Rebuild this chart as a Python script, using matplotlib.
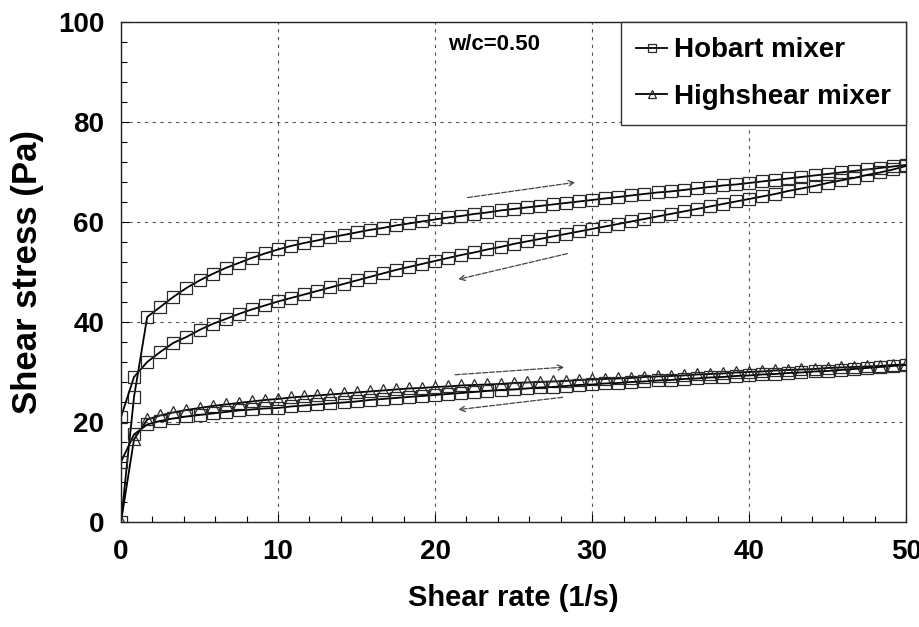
import matplotlib

matplotlib.use("Agg")

import matplotlib.pyplot as plt
from matplotlib.ticker import MultipleLocator

plt.rcParams["font.family"] = ["Liberation Sans", "DejaVu Sans"]
plt.rcParams["font.weight"] = "bold"

# shear rate ramp (1/s), same points for the up and down sweeps
shear_rate = [0, 0.83, 1.67, 2.5, 3.33, 4.17, 5, 5.83, 6.67, 7.5, 8.33, 9.17,
              10, 10.83, 11.67, 12.5, 13.33, 14.17, 15, 15.83, 16.67, 17.5, 18.33, 19.17,
              20, 20.83, 21.67, 22.5, 23.33, 24.17, 25, 25.83, 26.67, 27.5, 28.33, 29.17,
              30, 30.83, 31.67, 32.5, 33.33, 34.17, 35, 35.83, 36.67, 37.5, 38.33, 39.17,
              40, 40.83, 41.67, 42.5, 43.33, 44.17, 45, 45.83, 46.67, 47.5, 48.33, 49.17,
              50]

# shear stress (Pa)
hobart_up = [0, 25, 41, 43, 45, 46.8, 48.3, 49.6, 50.8, 51.8, 52.8, 53.7,
             54.5, 55.2, 55.8, 56.3, 56.9, 57.4, 57.9, 58.4, 58.8, 59.3, 59.7, 60.1,
             60.5, 60.9, 61.2, 61.6, 61.9, 62.3, 62.6, 62.9, 63.2, 63.5, 63.8, 64.1,
             64.4, 64.7, 65.0, 65.3, 65.6, 65.9, 66.1, 66.4, 66.7, 67.0, 67.3, 67.5,
             67.8, 68.1, 68.4, 68.7, 69.0, 69.3, 69.6, 69.9, 70.2, 70.5, 70.8, 71.1,
             71.4]
hobart_down = [21, 29, 32, 34, 35.8, 37, 38.4, 39.6, 40.6, 41.6, 42.5, 43.3,
               44.1, 44.8, 45.5, 46.2, 46.9, 47.6, 48.3, 49.0, 49.7, 50.4, 51.0, 51.6,
               52.2, 52.8, 53.4, 53.9, 54.5, 55.0, 55.6, 56.1, 56.6, 57.1, 57.6, 58.1,
               58.6, 59.1, 59.6, 60.1, 60.6, 61.1, 61.6, 62.1, 62.6, 63.1, 63.6, 64.1,
               64.6, 65.1, 65.6, 66.2, 66.7, 67.2, 67.8, 68.3, 68.8, 69.4, 69.9, 70.5,
               71.2]
highshear_up = [0, 16.5, 20.5, 21.3, 21.9, 22.4, 22.8, 23.2, 23.5, 23.8, 24.1, 24.4,
                24.6, 24.9, 25.1, 25.3, 25.5, 25.7, 25.9, 26.1, 26.3, 26.5, 26.7, 26.8,
                27.0, 27.1, 27.3, 27.4, 27.5, 27.6, 27.8, 27.9, 28.0, 28.1, 28.2, 28.4,
                28.5, 28.6, 28.7, 28.8, 29.0, 29.1, 29.2, 29.3, 29.5, 29.6, 29.7, 29.9,
                30.0, 30.1, 30.3, 30.4, 30.5, 30.6, 30.8, 30.9, 31.0, 31.1, 31.2, 31.4,
                31.5]
highshear_down = [12, 17.5, 19.5, 20.2, 20.7, 21.1, 21.4, 21.7, 22.0, 22.3, 22.5, 22.7,
                  22.8, 23.1, 23.3, 23.5, 23.7, 23.9, 24.1, 24.4, 24.6, 24.8, 25.0, 25.2,
                  25.4, 25.6, 25.8, 26.0, 26.2, 26.4, 26.5, 26.7, 26.9, 27.0, 27.2, 27.4,
                  27.5, 27.7, 27.8, 28.0, 28.1, 28.3, 28.4, 28.6, 28.7, 28.9, 29.0, 29.2,
                  29.3, 29.5, 29.6, 29.8, 29.9, 30.1, 30.2, 30.4, 30.6, 30.8, 31.0, 31.2,
                  31.4]

fig = plt.figure(figsize=(9.2, 6.27), dpi=100)
ax = fig.add_axes([0.1315, 0.1675, 0.8535, 0.7975])

style = dict(color="black", linewidth=1.3, markersize=8.5, markeredgewidth=0.9,
             markerfacecolor="none", markeredgecolor="#2a2a2a")
ax.plot(shear_rate, hobart_up, marker="s", label="Hobart mixer", **style)
ax.plot(shear_rate, hobart_down, marker="s", **style)
ax.plot(shear_rate, highshear_up, marker="^", label="Highshear mixer", **style)
ax.plot(shear_rate, highshear_down, marker="s", **style)

# sweep direction arrows
arrow = dict(arrowstyle="->", color="#444444", lw=0.9, linestyle=(0, (4, 1.5)))
ax.annotate("", xy=(29.1, 68), xytext=(21.9, 64.8), arrowprops=arrow)
ax.annotate("", xy=(21.3, 48.4), xytext=(28.6, 53.8), arrowprops=arrow)
ax.annotate("", xy=(28.4, 31), xytext=(21.1, 29.4), arrowprops=arrow)
ax.annotate("", xy=(21.3, 22.4), xytext=(28.3, 25), arrowprops=arrow)

ax.text(20.8, 95.5, "w/c=0.50", fontsize=16, fontweight="bold", va="center")

ax.set_xlim(0, 50)
ax.set_ylim(0, 100)
ax.xaxis.set_major_locator(MultipleLocator(10))
ax.xaxis.set_minor_locator(MultipleLocator(2))
ax.yaxis.set_major_locator(MultipleLocator(20))
ax.yaxis.set_minor_locator(MultipleLocator(4))
ax.tick_params(which="both", direction="in", labelsize=20, pad=12, width=0.8)
ax.tick_params(which="major", length=6)
ax.tick_params(which="minor", length=4)
ax.grid(True, which="major", linestyle=(0, (3, 4)), color="#555555", linewidth=0.8)

for spine in ax.spines.values():
    spine.set_linewidth(1.0)
    spine.set_color("#222222")

ax.set_xlabel("Shear rate (1/s)", fontsize=21, fontweight="bold", labelpad=14)
ax.set_ylabel("Shear stress (Pa)", fontsize=25, fontweight="bold", labelpad=10)

leg = ax.legend(loc="upper right", bbox_to_anchor=(1.0, 1.0), borderaxespad=0,
                fontsize=20, handlelength=1.1, handletextpad=0.25, markerscale=0.6,
                fancybox=False, framealpha=1, edgecolor="#333333",
                borderpad=0.55, labelspacing=0.75)
leg.get_frame().set_linewidth(1.0)

fig.savefig("out.png", dpi=100, facecolor="white")
